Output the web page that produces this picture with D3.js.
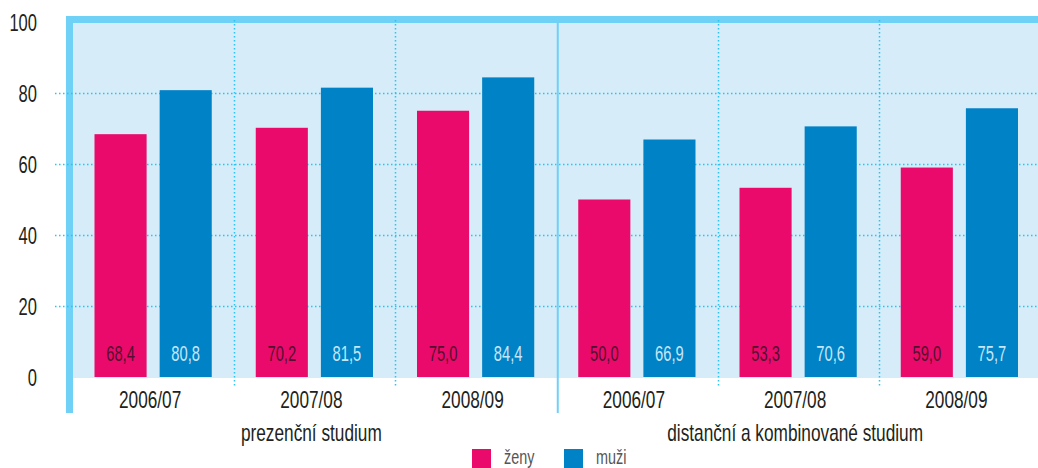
<!DOCTYPE html>
<html>
<head>
<meta charset="utf-8">
<script src="https://cdn.jsdelivr.net/npm/d3@7"></script>
<style>
  body { margin: 0; background: #fff; }
  svg text { font-family: 'Liberation Sans', Arial, sans-serif; }
</style>
</head>
<body>
<div id="chart"></div>
<script>
// data
const studyTypes = ['prezenční studium', 'distanční a kombinované studium'];
const years = ['2006/07', '2007/08', '2008/09'];
const seriesNames = ['ženy', 'muži'];
const zeny = [68.4, 70.2, 75.0, 50.0, 53.3, 59.0];
const muzi = [80.8, 81.5, 84.4, 66.9, 70.6, 75.7];
const yTicks = [0, 20, 40, 60, 80, 100];

const width = 1038, height = 468;
const colors = { 'ženy': '#e90a6c', 'muži': '#0082c6' };
const labelColors = { 'ženy': '#55102f', 'muži': '#c6e7f8' };
const fmt = v => d3.format('.1f')(v).replace('.', ',');

// condensed look: squeeze text horizontally around its anchor
const squeeze = (x, y, sx) => `translate(${x},${y}) scale(${sx},1)`;

// one group per study type + year
const groups = [];
studyTypes.forEach((s, si) => years.forEach((y, yi) => {
    const i = si * years.length + yi;
    groups.push({ key: i, study: s, year: y, values: [
        { name: 'ženy', value: zeny[i] },
        { name: 'muži', value: muzi[i] }
    ]});
}));

const svg = d3.select('#chart').append('svg')
    .attr('width', width)
    .attr('height', height);

const plot = { left: 73, right: 1040, top: 23, bottom: 377 };

const x0 = d3.scaleBand()
    .domain(groups.map(d => d.key))
    .range([plot.left - 0.5, plot.right]);
const x1 = d3.scaleBand()
    .domain(seriesNames)
    .range([22, x0.bandwidth() - 22])
    .paddingInner(0.2);
const y = d3.scaleLinear()
    .domain([0, 100])
    .range([plot.bottom, plot.top - 1]);

// background
svg.append('rect')
    .attr('x', plot.left).attr('y', plot.top)
    .attr('width', width - plot.left).attr('height', plot.bottom - plot.top + 1)
    .style('fill', '#d6ecf9');

// frame (top + left thick borders)
svg.append('rect')
    .attr('x', 66).attr('y', 16)
    .attr('width', width - 66).attr('height', 7)
    .style('fill', '#6fd1f5');
svg.append('rect')
    .attr('x', 66).attr('y', 16)
    .attr('width', 7).attr('height', 397)
    .style('fill', '#6fd1f5');

// horizontal grid
svg.selectAll('line.hgrid')
    .data(yTicks.filter(t => t > 0 && t < 100))
    .join('line')
    .classed('hgrid', true)
    .attr('x1', 55).attr('x2', width)
    .attr('y1', d => Math.round(y(d)) + 0.5)
    .attr('y2', d => Math.round(y(d)) + 0.5)
    .style('stroke', '#2cc3ee')
    .style('stroke-width', 1.5)
    .style('stroke-dasharray', '1.5 2.5');

// vertical grid between years
const vLines = groups.slice(1).filter(d => d.key !== years.length).map(d => x0(d.key));
svg.selectAll('line.vgrid')
    .data(vLines)
    .join('line')
    .classed('vgrid', true)
    .attr('x1', d => Math.round(d) + 0.5).attr('x2', d => Math.round(d) + 0.5)
    .attr('y1', 20).attr('y2', 386)
    .style('stroke', '#2cc3ee')
    .style('stroke-width', 1.5)
    .style('stroke-dasharray', '1.5 2.5');

// separator between study types
const sepX = x0(years.length) + 1.5;
svg.append('line')
    .attr('x1', sepX).attr('x2', sepX)
    .attr('y1', plot.top).attr('y2', 413)
    .style('stroke', '#6fd1f5')
    .style('stroke-width', 2);

// bars
const g = svg.selectAll('g.group')
    .data(groups)
    .join('g')
    .classed('group', true)
    .attr('transform', d => `translate(${x0(d.key)},0)`);

g.selectAll('rect.bar')
    .data(d => d.values)
    .join('rect')
    .classed('bar', true)
    .attr('x', d => x1(d.name))
    .attr('width', x1.bandwidth())
    .attr('y', d => y(d.value))
    .attr('height', d => y(0) - y(d.value))
    .style('fill', d => colors[d.name]);

g.selectAll('text.val')
    .data(d => d.values)
    .join('text')
    .classed('val', true)
    .attr('transform', d => squeeze(x1(d.name) + x1.bandwidth() / 2, 361, 0.67))
    .attr('text-anchor', 'middle')
    .style('font-size', '22px')
    .style('fill', d => labelColors[d.name])
    .text(d => fmt(d.value));

// y axis labels
svg.selectAll('text.ytick')
    .data(yTicks)
    .join('text')
    .classed('ytick', true)
    .attr('transform', d => squeeze(37, y(d) + 8.5, 0.72))
    .attr('text-anchor', 'end')
    .style('font-size', '23px')
    .style('fill', '#231f20')
    .text(d => d);

// year labels
svg.selectAll('text.year')
    .data(groups)
    .join('text')
    .classed('year', true)
    .attr('transform', d => squeeze(x0(d.key) + x0.bandwidth() / 2 - 3, 408, 0.75))
    .attr('text-anchor', 'middle')
    .style('font-size', '23px')
    .style('fill', '#231f20')
    .text(d => d.year);

// study type labels
svg.selectAll('text.study')
    .data(studyTypes)
    .join('text')
    .classed('study', true)
    .attr('transform', (d, i) => {
        const a = x0(i * years.length), b = x0((i + 1) * years.length - 1) + x0.bandwidth();
        return squeeze((a + b) / 2 - 3, 441, 0.75);
    })
    .attr('text-anchor', 'middle')
    .style('font-size', '23px')
    .style('fill', '#231f20')
    .text(d => d);

// legend
const legend = svg.selectAll('g.legend')
    .data(seriesNames)
    .join('g')
    .classed('legend', true)
    .attr('transform', (d, i) => `translate(${472 + i * 92},449)`);
legend.append('rect')
    .attr('width', 19).attr('height', 19)
    .style('fill', d => colors[d]);
legend.append('text')
    .attr('transform', squeeze(32, 14.5, 0.72))
    .style('font-size', '20px')
    .style('fill', '#555')
    .text(d => d);
</script>
</body>
</html>
